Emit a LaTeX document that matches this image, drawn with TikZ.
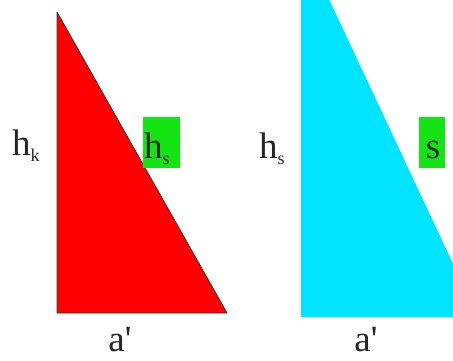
\documentclass[tikz,border=0pt]{standalone}
\usepackage{fontspec}
\setmainfont{Liberation Serif}
\definecolor{tri1}{RGB}{255,0,0}
\definecolor{tri2}{RGB}{0,228,255}
\definecolor{lbl}{RGB}{20,228,20}
\newcommand{\subsc}[1]{\raisebox{-0.18em}{\fontsize{18}{18}\selectfont #1}}
\begin{document}
\begin{tikzpicture}[x=1pt,y=-1pt,
  txt/.style={inner sep=0pt,font=\fontsize{37}{37}\selectfont,text=black!85},
  gbox/.style={fill=lbl,inner sep=0pt,minimum height=50pt}]
\useasboundingbox (0,0) rectangle (453,361);
\fill[tri1,draw=black!80,line width=0.8pt,line join=round] (57,12) -- (57,313) -- (227,313) -- cycle;
\begin{scope}
\clip (0,0) rectangle (453,361);
\fill[tri2] (301,-20) -- (301,317) -- (478,317) -- (320,-20) -- cycle;
\end{scope}
\node[gbox,minimum width=37pt] (g1) at (161.5,142.5) {};
\node[gbox,minimum width=26pt] (g2) at (432,142.5) {};
\node[txt,anchor=base west] (hk) at (12,155) {h\subsc{k}};
\node[txt,anchor=base west] (hs1) at (144,158) {h\subsc{s}};
\node[txt,anchor=base west] (hs2) at (259,158) {h\subsc{s}};
\node[txt,anchor=base] (s) at (433,158) {s};
\node[txt,anchor=base] (a1) at (120,351) {a\textquotesingle};
\node[txt,anchor=base] (a2) at (366,351) {a\textquotesingle};
\end{tikzpicture}
\end{document}
